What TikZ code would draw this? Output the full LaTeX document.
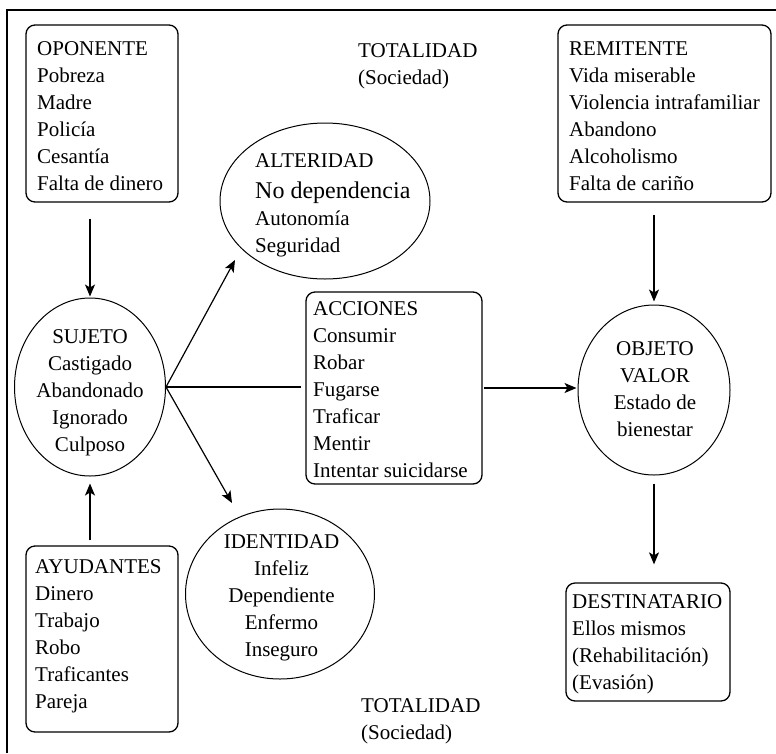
\documentclass[tikz,border=0pt]{standalone}
\usepackage{fontspec}
\setmainfont{Liberation Serif}
\usetikzlibrary{shapes.geometric,arrows.meta}
\begin{document}
\begin{tikzpicture}[x=1pt,y=-1pt,
  lbl/.style={font=\fontsize{21}{27}\selectfont, inner sep=0pt, align=left, anchor=north west},
  lblc/.style={font=\fontsize{21}{27}\selectfont, inner sep=0pt, align=center, anchor=north},
  rbox/.style={draw, line width=1.3pt, rounded corners=9pt, inner sep=0pt},
  ellnode/.style={draw, ellipse, line width=1pt, inner sep=0pt},
  arr/.style={line width=1.2pt, -{Stealth[length=12pt,width=10pt,inset=3pt]}},
  conn/.style={line width=1.2pt}]
\useasboundingbox (0,0) rectangle (776,753);
\draw[line width=1.2pt] (7,753) -- (7,10) -- (776,10);

% boxes
\node[rbox, minimum width=152pt, minimum height=177pt] (opo) at (102,113.5) {};
\node[lbl] (opoT) at (37,41.1) {OPONENTE\\Pobreza\\Madre\\Policía\\Cesantía\\Falta de dinero};

\node[rbox, minimum width=213pt, minimum height=177pt] (rem) at (664.5,113.5) {};
\node[lbl] (remT) at (569,41.8) {REMITENTE\\Vida miserable\\Violencia intrafamiliar\\Abandono\\Alcoholismo\\Falta de cariño};

\node[rbox, minimum width=176pt, minimum height=192pt] (acc) at (394,388) {};
\node[lbl] (accT) at (313,301.1) {ACCIONES\\Consumir\\Robar\\Fugarse\\Traficar\\Mentir\\Intentar suicidarse};

\node[rbox, minimum width=164pt, minimum height=118pt] (dest) at (648,642) {};
\node[lbl] (destT) at (572,594.1) {DESTINATARIO\\Ellos mismos\\(Rehabilitación)\\(Evasión)};

\node[rbox, minimum width=152pt, minimum height=186pt] (ayu) at (102,639) {};
\node[lbl] (ayuT) at (35,559.1) {AYUDANTES\\Dinero\\Trabajo\\Robo\\Traficantes\\Pareja};

% ellipses
\node[ellnode, minimum width=210pt, minimum height=156pt] (alt) at (325,201) {};
\node[lbl] (altT) at (255,153.1) {ALTERIDAD\\[4pt]{\fontsize{24}{27}\selectfont No dependencia}\\Autonomía\\Seguridad};

\node[ellnode, minimum width=151pt, minimum height=178pt] (suj) at (90,387) {};
\node[lblc] (sujT) at (90,329.1) {SUJETO\\Castigado\\Abandonado\\Ignorado\\Culposo};

\node[ellnode, minimum width=152pt, minimum height=170pt] (obj) at (654,390) {};
\node[lblc] (objT) at (655,341.1) {OBJETO\\VALOR\\Estado de\\bienestar};

\node[ellnode, minimum width=189pt, minimum height=170pt] (ide) at (280,594) {};
\node[lblc] (ideT) at (281.5,534.1) {IDENTIDAD\\Infeliz\\Dependiente\\Enfermo\\Inseguro};

% totalidad
\node[lbl] (tot1) at (358,43.1) {TOTALIDAD\\(Sociedad)};
\node[lbl] (tot2) at (361,698.1) {TOTALIDAD\\(Sociedad)};

% connectors
\coordinate (altTip) at (235,260);
\coordinate (ideTip) at (232,503);
\draw[arr, shorten <=16pt, shorten >=1pt] (suj.north |- opo.south) -- (suj.north);
\draw[arr, shorten <=5pt, shorten >=7pt] (suj.south |- ayu.north) -- (suj.south);
\draw[conn, shorten >=4pt] (suj.east) -- (suj.east -| acc.west);
\draw[arr] (suj.east) -- (altTip);
\draw[arr] (suj.east) -- (ideTip);
\draw[arr, shorten <=1pt, shorten >=1pt] (acc.east) -- (acc.east -| obj.west);
\draw[arr, shorten <=12pt, shorten >=3pt] (obj.north |- rem.south) -- (obj.north);
\draw[arr, shorten <=8pt, shorten >=18pt] (obj.south) -- (obj.south |- dest.north);
\end{tikzpicture}
\end{document}
